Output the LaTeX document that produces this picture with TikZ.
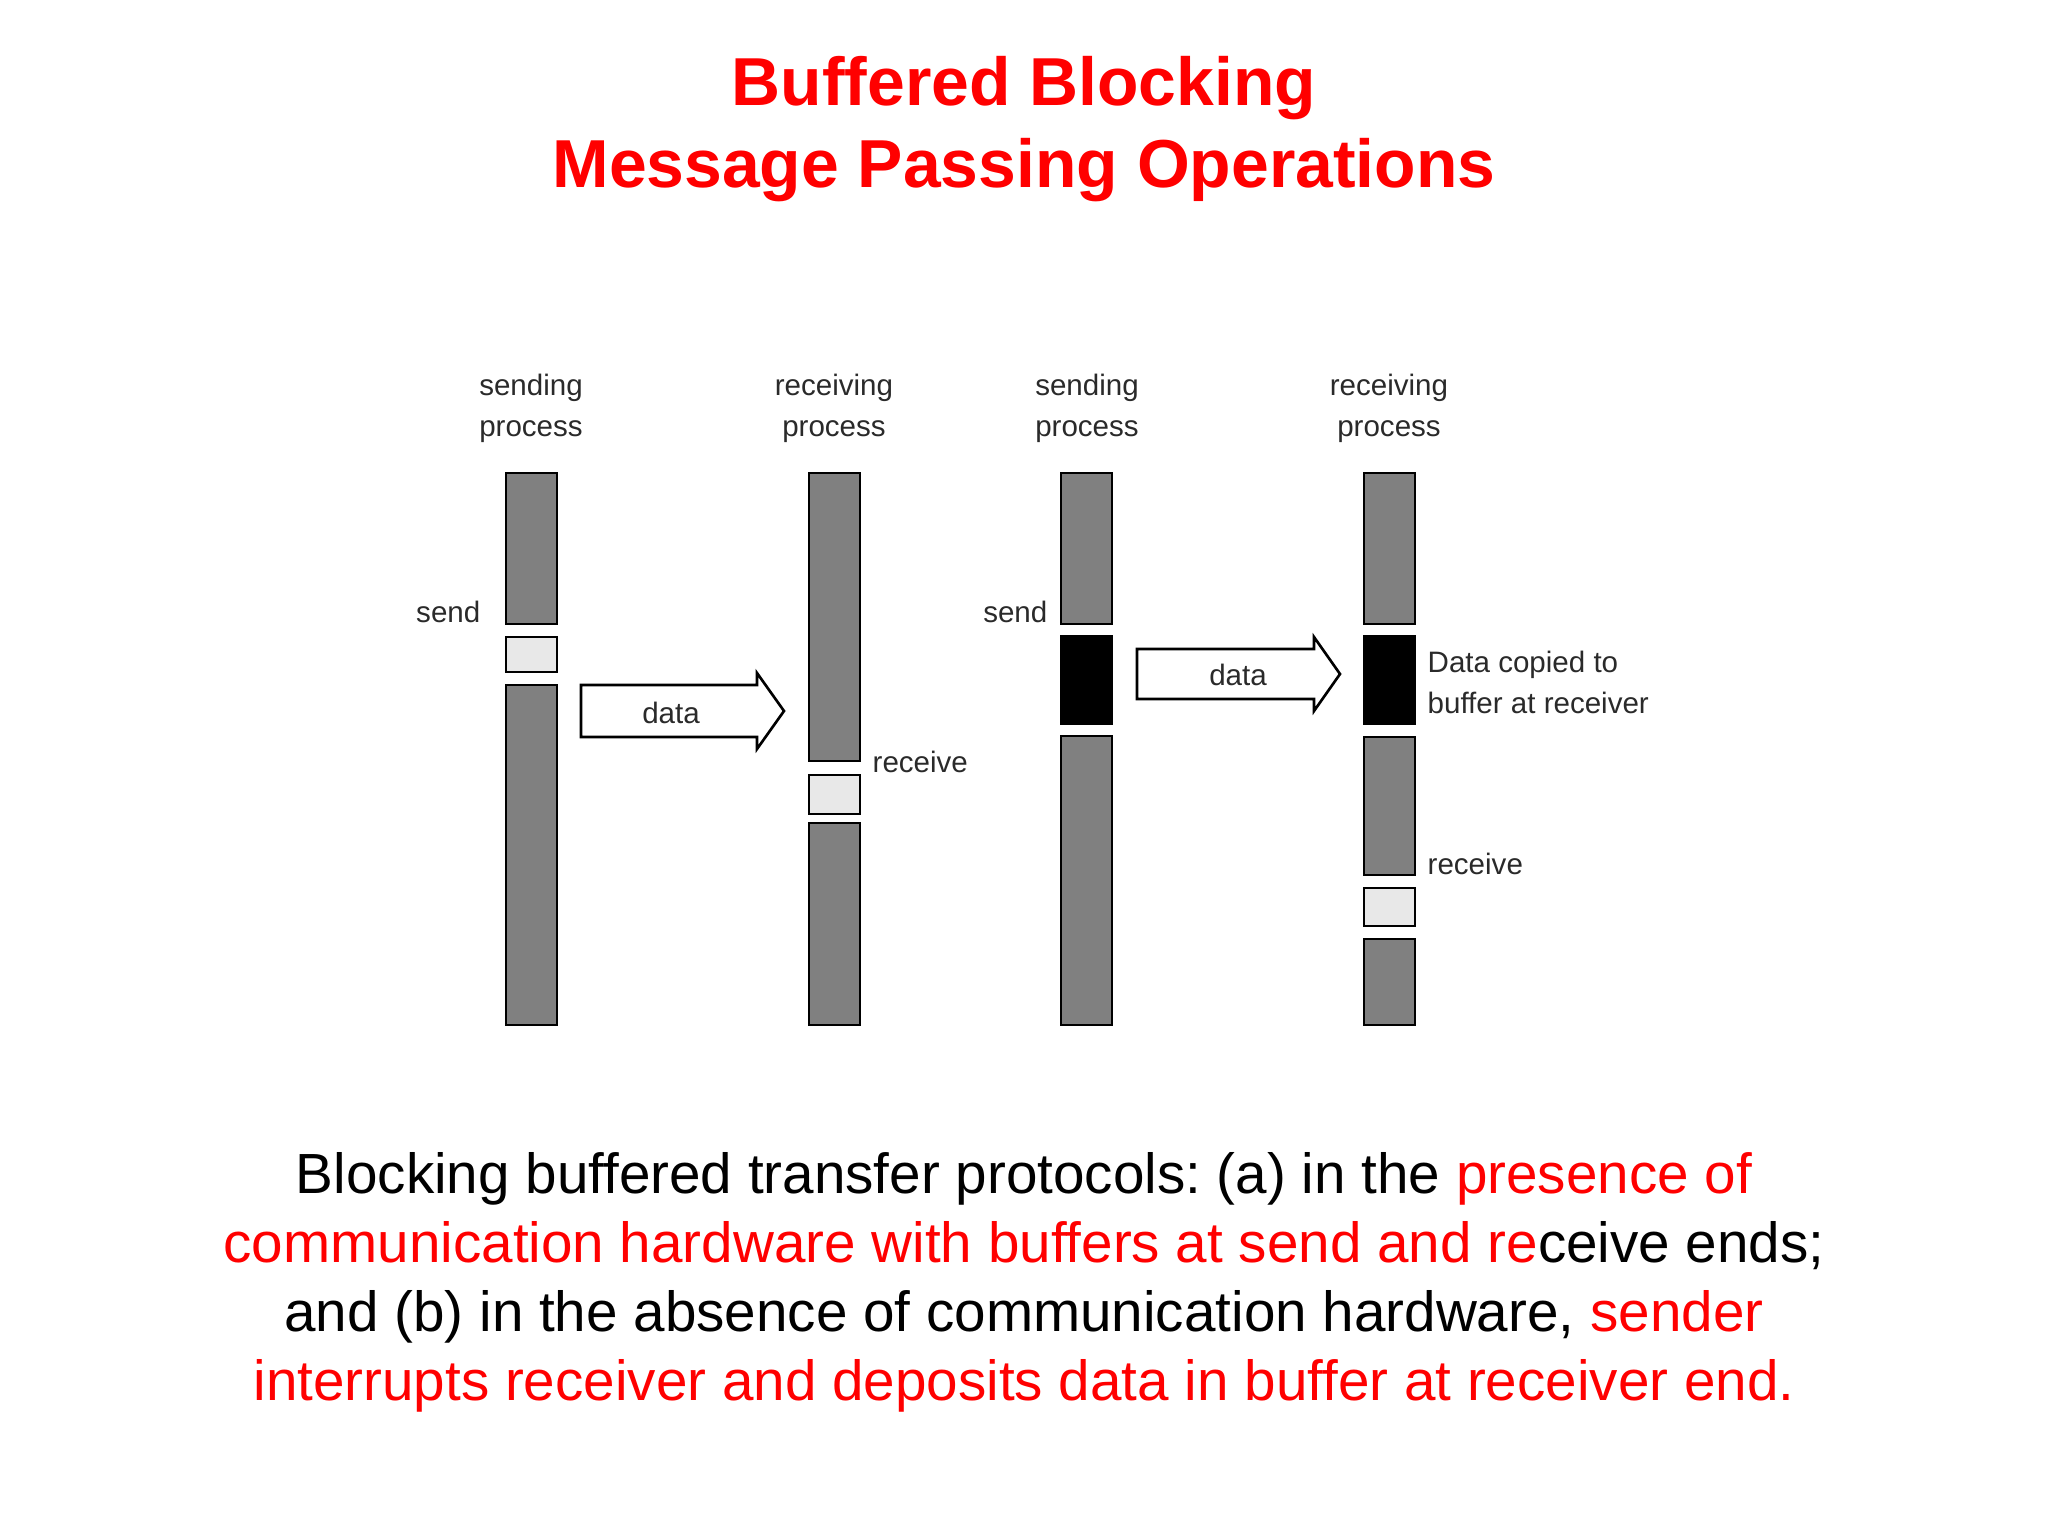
\documentclass[tikz,border=0pt]{standalone}
\usepackage{fontspec}
\setmainfont{Liberation Sans}
\usepackage{xcolor}
\usetikzlibrary{positioning}
\frenchspacing

\definecolor{slideRed}{HTML}{FF0000}
\definecolor{barGray}{HTML}{808080}
\definecolor{bufGray}{HTML}{E8E8E8}
\definecolor{labelGray}{HTML}{2A2A2A}

\begin{document}
\begin{tikzpicture}[x=0.01cm, y=-0.01cm]
    \tikzset{
        bar/.style={draw=black, line width=0.75pt, fill=barGray},
        buffer/.style={draw=black, line width=0.75pt, fill=bufGray},
        copied/.style={draw=black, line width=0.75pt, fill=black},
        block arrow/.style={draw=black, line width=0.75pt, fill=white, line join=miter},
        lbl/.style={text=labelGray, inner sep=0pt, font=\fontsize{8.4}{11.4}\selectfont},
        title line/.style={text=slideRed, inner sep=0pt, font=\fontsize{19.3}{23}\selectfont\bfseries},
        caption line/.style={inner sep=0pt, font=\fontsize{16.1}{19.7}\selectfont}
    }
    \useasboundingbox (0,0) rectangle (2048,1536);

    % title
    \node[title line, anchor=base] (title1) at (1024,105) {Buffered Blocking};
    \node[title line, anchor=base] (title2) at (1024,187) {Message Passing Operations};

    % (a) sender and receiver
    \draw[bar]    (506,473) rectangle (557,624);
    \draw[buffer] (506,637) rectangle (557,672);
    \draw[bar]    (506,685) rectangle (557,1025);

    \draw[bar]    (809,473) rectangle (860,761);
    \draw[buffer] (809,775) rectangle (860,814);
    \draw[bar]    (809,823) rectangle (860,1025);

    \draw[block arrow] (581,685) -- (757,685) -- (757,673) -- (784,711)
        -- (757,749) -- (757,737) -- (581,737) -- cycle;

    \node[lbl, align=center, anchor=base] (sendA) at (531,436) {sending\\process};
    \node[lbl, align=center, anchor=base] (recvA) at (834,436) {receiving\\process};
    \node[lbl, anchor=base east] (sendOpA) at (481,622) {send};
    \node[lbl, anchor=base west] (recvOpA) at (872,772) {receive};
    \node[lbl, anchor=base] (dataA) at (671,723) {data};

    % (b) sender and receiver
    \draw[bar]    (1061,473) rectangle (1112,624);
    \draw[copied] (1061,636) rectangle (1112,724);
    \draw[bar]    (1061,736) rectangle (1112,1025);

    \draw[bar]    (1364,473) rectangle (1415,624);
    \draw[copied] (1364,636) rectangle (1415,724);
    \draw[bar]    (1364,737) rectangle (1415,875);
    \draw[buffer] (1364,888) rectangle (1415,926);
    \draw[bar]    (1364,939) rectangle (1415,1025);

    \draw[block arrow] (1137,649) -- (1314,649) -- (1314,637) -- (1340,674)
        -- (1314,711) -- (1314,699) -- (1137,699) -- cycle;

    \node[lbl, align=center, anchor=base] (sendB) at (1087,436) {sending\\process};
    \node[lbl, align=center, anchor=base] (recvB) at (1389,436) {receiving\\process};
    \node[lbl, anchor=base east] (sendOpB) at (1048,622) {send};
    \node[lbl, align=left, anchor=base west] (copyB) at (1427,713) {Data copied to\\buffer at receiver};
    \node[lbl, anchor=base west] (recvOpB) at (1427,874) {receive};
    \node[lbl, anchor=base] (dataB) at (1238,685) {data};

    % caption
    \node[caption line, anchor=base] (cap1) at (1024,1193)
        {Blocking buffered transfer protocols: (a) in the \textcolor{slideRed}{presence of}};
    \node[caption line, anchor=base] (cap2) at (1024,1262)
        {\textcolor{slideRed}{communication hardware with buffers at send and re}ceive ends;};
    \node[caption line, anchor=base] (cap3) at (1024,1331)
        {and (b) in the absence of communication hardware, \textcolor{slideRed}{sender}};
    \node[caption line, anchor=base, text=slideRed] (cap4) at (1024,1400)
        {interrupts receiver and deposits data in buffer at receiver end.};
\end{tikzpicture}
\end{document}
